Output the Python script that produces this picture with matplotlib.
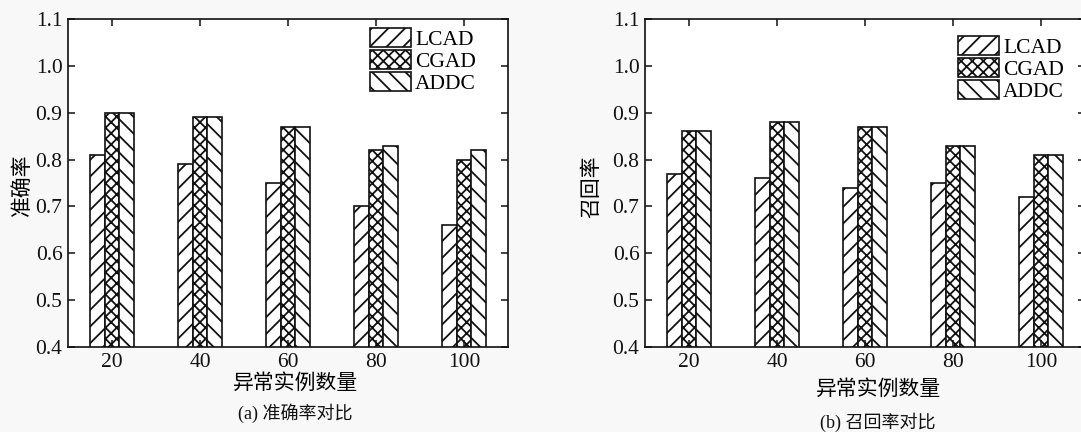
import matplotlib
matplotlib.use("Agg")
import matplotlib.pyplot as plt
import numpy as np

plt.rcParams["font.family"] = ["Liberation Serif", "Noto Sans CJK SC"]
plt.rcParams["hatch.linewidth"] = 1.3

categories = ["20", "40", "60", "80", "100"]
methods = ["LCAD", "CGAD", "ADDC"]
hatches = ["//", "xxx", "\\\\"]

accuracy_lcad = [0.81, 0.79, 0.75, 0.70, 0.66]
accuracy_cgad = [0.90, 0.89, 0.87, 0.82, 0.80]
accuracy_addc = [0.90, 0.89, 0.87, 0.83, 0.82]

recall_lcad = [0.77, 0.76, 0.74, 0.75, 0.72]
recall_cgad = [0.86, 0.88, 0.87, 0.83, 0.81]
recall_addc = [0.86, 0.88, 0.87, 0.83, 0.81]

W, H = 1081, 432
fig = plt.figure(figsize=(W / 100, H / 100), dpi=100)
fig.set_facecolor("#f8f8f8")


def draw_panel(ax, series, ylabel, ylabel_pos, xlabel_pos):
    x = np.arange(len(categories))
    width = 0.167
    for i, (vals, name, h) in enumerate(zip(series, methods, hatches)):
        ax.bar(x + (i - 1) * width, vals, width, color="white", edgecolor="#111111",
               linewidth=1.2, hatch=h, label=name)
    ax.set_xlim(-0.5, len(categories) - 0.5)
    ax.set_ylim(0.4, 1.1)
    ax.set_xticks(x)
    ax.set_xticklabels(categories)
    ax.set_yticks(np.arange(0.4, 1.101, 0.1))
    ax.set_yticklabels([f"{v:.1f}" for v in np.arange(0.4, 1.101, 0.1)])
    ax.tick_params(direction="in", top=True, right=True, length=5, width=1.1,
                   labelsize=15.5, colors="#111111", pad=4)
    for spine in ax.spines.values():
        spine.set_linewidth(1.2)
        spine.set_color("#111111")
    ax.set_ylabel(ylabel, fontsize=15, family=["Noto Sans CJK SC"])
    ax.yaxis.set_label_coords(*ylabel_pos)
    ax.set_xlabel("异常实例数量", fontsize=15, family=["Noto Sans CJK SC"])
    ax.xaxis.set_label_coords(*xlabel_pos)
    ax.set_facecolor("white")


ax1 = fig.add_axes([68 / W, 1 - 347 / H, 440 / W, 328 / H])
draw_panel(ax1, [accuracy_lcad, accuracy_cgad, accuracy_addc], "准确率",
           (-0.08, 0.494), (0.516, -0.076))
ax1.legend(loc="upper left", bbox_to_anchor=((370 - 68) / 440, (347 - 28) / 328),
           frameon=False, fontsize=15.5, handlelength=1.9, handleheight=1.0,
           labelspacing=0.0, handletextpad=0.2, borderpad=0, borderaxespad=0)

ax2 = fig.add_axes([645 / W, 1 - 347 / H, 440 / W, 328 / H])
draw_panel(ax2, [recall_lcad, recall_cgad, recall_addc], "召回率",
           (-0.098, 0.49), (0.53, -0.095))
ax2.legend(loc="upper left", bbox_to_anchor=((958 - 645) / 440, (347 - 36) / 328),
           frameon=False, fontsize=15.5, handlelength=1.9, handleheight=1.0,
           labelspacing=0.0, handletextpad=0.2, borderpad=0, borderaxespad=0)

fig.text(295 / W, 1 - 413 / H, "(a) 准确率对比", ha="center", va="center", fontsize=13,
         color="#111111")
fig.text(878 / W, 1 - 422 / H, "(b) 召回率对比", ha="center", va="center", fontsize=13,
         color="#111111")

fig.savefig("out.png", dpi=100, facecolor=fig.get_facecolor())
